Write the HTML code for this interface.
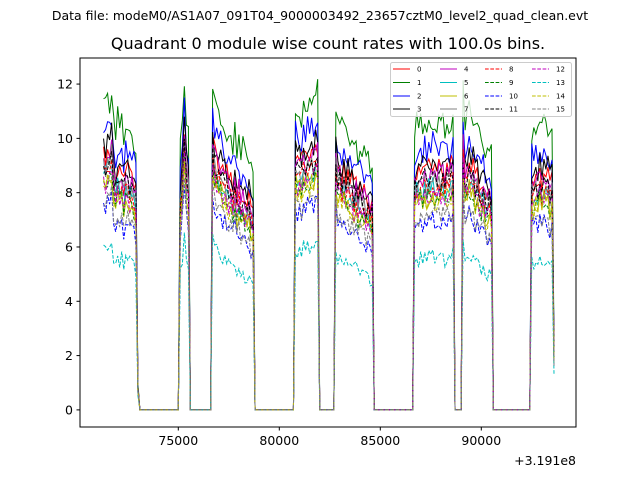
<!DOCTYPE html>
<html><head><meta charset="utf-8"><style>
body{margin:0;background:#fff;font-family:"Liberation Sans","DejaVu Sans",sans-serif}
svg text{font-family:"DejaVu Sans","Liberation Sans",sans-serif}
</style></head><body>
<svg id="chart" width="640" height="480" xmlns="http://www.w3.org/2000/svg">
<rect width="640" height="480" fill="#fff"/>
<text x="320" y="20" font-size="12.5" text-anchor="middle">Data file: modeM0/AS1A07_091T04_9000003492_23657cztM0_level2_quad_clean.evt</text>
<text x="328" y="49" font-size="16" text-anchor="middle">Quadrant 0 module wise count rates with 100.0s bins.</text>
<g id="plot"></g>
<g id="axes"></g>
<text x="576" y="465" font-size="12.5" text-anchor="end">+3.191e8</text>
<g id="legend"></g>
</svg>
<script>
const tStart = 71300, tStep = 100;
const seriesNames = ['0','1','2','3','4','5','6','7','8','9','10','11','12','13','14','15'];
const seriesRatio = [0.84,1.0,0.91,0.86,0.82,0.77,0.74,0.79,0.78,0.74,0.66,0.80,0.75,0.53,0.73,0.68];
const profile = [
11.3,11.1,11.5,11.4,11.9,10.6,10.1,10.7,10.3,10.6,10.0,10.5,10.4,10.2,10.1,10.0,9.6,
1.0,0,0,0,0,0,0,0,0,0,0,0,0,0,0,0,0,0,0,0,
0,9.6,10.5,12.4,10.8,10.2,
0,0,0,0,0,0,0,0,0,0,0,
11.9,11.3,11.1,10.8,10.9,10.5,10.5,10.3,10.0,10.1,9.8,10.2,9.5,9.9,9.2,9.6,9.3,9.0,9.4,8.8,8.6,
0,0,0,0,0,0,0,0,0,0,0,0,0,0,0,0,0,0,0,0,
11.3,10.9,11.1,10.8,11.3,11.0,11.4,11.1,11.5,11.3,11.6,11.7,
0,0,0,0,0,0,0,0,
11.3,10.5,10.7,10.3,10.5,10.1,10.3,9.9,10.0,9.7,9.9,9.5,9.7,9.4,9.5,9.2,9.3,9.1,9.0,
0,0,0,0,0,0,0,0,0,0,0,0,0,0,0,0,0,0,0,0,
10.2,10.5,10.3,10.6,10.4,10.7,10.3,10.6,10.4,10.8,10.5,10.3,10.6,10.5,10.7,10.4,10.6,10.5,10.7,10.8,
0,0,0,0,
11.9,10.3,10.6,11.0,10.5,10.8,10.2,10.4,10.0,9.8,10.1,9.6,9.4,9.7,9.3,
0,0,0,0,0,0,0,0,0,0,0,0,0,0,0,0,0,0,0,
10.3,10.0,10.4,10.2,10.6,10.1,10.5,10.3,10.4,9.9,10.2,2.4];
const jitter = [0.3,-0.4,0.1,0.5,-0.2,-0.5,0.4,0.0,-0.3,0.6,-0.1,0.2,-0.6,0.3,0.1,-0.4,0.5,-0.2,0.0,0.4,-0.5,0.2,-0.1,0.6,-0.3,0.1,-0.6,0.3,0.5,-0.2,0.0,-0.4,0.2,0.4,-0.1,-0.5,0.3];
const xTicks = [75000,80000,85000,90000];
const yTicks = [0,2,4,6,8,10,12];
const colors = ['#ff0000','#008000','#0000ff','#000000','#bf00bf','#00bfbf','#bfbf00','#808080'];

const X0=80,X1=576,Y0=58,Y1=427;
const xMin=70134, xMax=94688, yMin=-0.63, yMax=12.96;
const xs = v => X0 + (v-xMin)/(xMax-xMin)*(X1-X0);
const ys = v => Y1 - (v-yMin)/(yMax-yMin)*(Y1-Y0);
const NS='http://www.w3.org/2000/svg';
const mk=(tag,attrs,parent)=>{const e=document.createElementNS(NS,tag);for(const k in attrs)e.setAttribute(k,attrs[k]);parent.appendChild(e);return e;};

const plot=document.getElementById('plot');
seriesNames.forEach((name,s)=>{
  let pts=[];
  profile.forEach((p,i)=>{
    let v = p>0 ? p*seriesRatio[s] + (p>3 ? jitter[(i*5+s*11)%jitter.length]*seriesRatio[s]*0.8 : 0) : 0;
    pts.push(xs(tStart+i*tStep).toFixed(2)+','+ys(v).toFixed(2));
  });
  const attrs={points:pts.join(' '),fill:'none',stroke:colors[s%8],'stroke-width':1};
  if(s>=8) attrs['stroke-dasharray']='3.7,1.6';
  const el=mk('polyline',attrs,plot);
  
  
});

const axes=document.getElementById('axes');
const frame=mk('rect',{x:X0,y:Y0,width:X1-X0,height:Y1-Y0,fill:'none',stroke:'#000','stroke-width':1},axes);


xTicks.forEach(t=>{
  const x=xs(t);
  const tk=mk('line',{x1:x,x2:x,y1:Y1,y2:Y1+3.5,stroke:'#000'},axes);
  
  
  const tx=mk('text',{x:x,y:Y1+18,'font-size':12.5,'text-anchor':'middle'},axes);
  tx.textContent=t;
  
  
});
yTicks.forEach(t=>{
  const y=ys(t);
  const tk=mk('line',{x1:X0-3.5,x2:X0,y1:y,y2:y,stroke:'#000'},axes);
  
  
  const tx=mk('text',{x:X0-7,y:y+4.5,'font-size':12.5,'text-anchor':'end'},axes);
  tx.textContent=t;
  
  
});

const lg=document.getElementById('legend');
const box=mk('rect',{x:390.5,y:62.5,width:181,height:54,fill:'#fff','fill-opacity':0.8,stroke:'#ccc',rx:2},lg);


const colX=[393,440,485,532];
const rowY=[69,82.5,96,109];
seriesNames.forEach((name,s)=>{
  const c=Math.floor(s/4), r=s%4;
  const g=mk('g',{},lg);
  
  
  const a={x1:colX[c],x2:colX[c]+17,y1:rowY[r],y2:rowY[r],stroke:colors[s%8],'stroke-width':1};
  if(s>=8) a['stroke-dasharray']='3.7,1.6';
  mk('line',a,g);
  const tx=mk('text',{x:colX[c]+24,y:rowY[r]+2.5,'font-size':7},g);
  tx.textContent=name;
});
</script>
</body></html>
